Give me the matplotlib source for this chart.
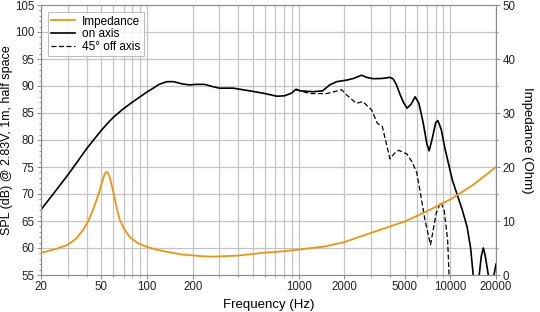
import matplotlib.pyplot as plt
from matplotlib.ticker import FixedLocator, NullFormatter, MultipleLocator

plt.rcParams['font.family'] = ['Liberation Sans', 'DejaVu Sans']

# on axis SPL (Hz, dB)
on_f = [20, 25, 30, 35, 40, 45, 50, 55, 60, 70, 80, 90, 100, 110, 120, 135, 150, 170, 190, 210,
        240, 270, 300, 370, 500, 600, 720, 810, 900, 960, 1025, 1240, 1440, 1600, 1780, 2080,
        2300, 2600, 2800, 3100, 3560, 4000, 4200, 4400, 4650, 4920, 5180, 5500, 5860, 6200,
        6600, 7000, 7250, 7600, 8000, 8270, 8700, 9200, 9600, 10300, 11000, 12000, 12900,
        13600, 14150, 14800, 15500, 16000, 16500, 17000, 17800, 18500, 19400, 20000]
on_db = [67.1, 70.6, 73.5, 76.1, 78.4, 80.2, 81.8, 83.1, 84.2, 85.8, 87.0, 88.0, 88.9, 89.6,
         90.3, 90.8, 90.8, 90.4, 90.2, 90.3, 90.3, 89.9, 89.6, 89.6, 89.0, 88.6, 88.1, 88.2,
         88.7, 89.4, 89.1, 88.95, 89.1, 90.2, 90.8, 91.1, 91.4, 92.0, 91.6, 91.35, 91.4, 91.6,
         91.3, 90.3, 88.5, 86.9, 85.9, 86.6, 88.0, 86.8, 83.4, 79.3, 78.0, 80.3, 83.2, 83.6,
         82.0, 78.5, 76.3, 72.6, 70.2, 67.0, 63.9, 60.0, 55.0, 50.0, 55.0, 58.5, 60.0, 58.5,
         55.0, 52.0, 55.0, 57.0]

# 45 deg off axis SPL (Hz, dB)
off_f = [960, 1190, 1530, 1920, 2080, 2400, 2650, 3020, 3300, 3560, 4000, 4300, 4560, 5180,
         5600, 6000, 6300, 6800, 7400, 8080, 8660, 9100, 9600, 9800, 10200]
off_db = [89.3, 88.6, 88.6, 89.3, 88.3, 86.8, 87.1, 85.6, 83.1, 82.5, 76.5, 77.6, 78.1, 77.4,
          75.9, 74.0, 70.7, 65.2, 60.6, 66.5, 68.5, 67.0, 61.5, 55.0, 48.0]

# impedance (Hz, Ohm)
imp_f = [20, 25, 30, 34, 38, 41, 44, 47, 49, 51, 52.5, 53.4, 54.2, 55.2, 56.3, 57.5, 59, 60.5,
         62, 64, 66, 70, 77, 87, 100, 115, 135, 170, 224, 272, 400, 578, 800, 1000, 1500,
         2000, 3000, 4000, 5000, 7000, 10000, 14000, 20000]
imp_ohm = [4.1, 4.8, 5.6, 6.7, 8.4, 10.0, 12.0, 14.3, 15.9, 17.6, 18.6, 19.0, 19.1, 18.9,
           18.4, 17.5, 16.2, 14.9, 13.4, 11.7, 10.3, 8.7, 7.0, 5.9, 5.2, 4.7, 4.3, 3.8, 3.5,
           3.4, 3.6, 4.1, 4.4, 4.7, 5.3, 6.1, 7.8, 9.0, 9.9, 11.8, 14.0, 16.6, 20.0]

x_ticks = [20, 50, 100, 200, 1000, 2000, 5000, 10000, 20000]
x_minor = [30, 40, 60, 70, 80, 90, 300, 400, 500, 600, 700, 800, 900,
           3000, 4000, 6000, 7000, 8000, 9000]

orange = '#f0940a'
grey = '#8c8c8c'

fig = plt.figure(figsize=(5.4, 3.12), dpi=100)
ax1 = fig.add_axes([41 / 540, 37 / 312, 455 / 540, 270 / 312])
ax2 = ax1.twinx()

ax1.set_xscale('log')
ax1.set_xlim(20, 20000)
ax1.set_ylim(55, 105)
ax2.set_ylim(0, 50)

# grid (left axis)
for f in x_ticks + x_minor:
    ax1.axvline(f, color='#c4c4c4', lw=0.9, zorder=0)
for v in range(60, 105, 5):
    ax1.axhline(v, color='#c4c4c4', lw=0.9, zorder=0)

ax1.plot(on_f, on_db, color='black', lw=1.2, label='on axis', zorder=3)
ax1.plot(off_f, off_db, color='black', lw=0.9, ls=(0, (4, 2)), label='45° off axis', zorder=3)
ax2.plot(imp_f, imp_ohm, color=orange, lw=1.3, label='Impedance', zorder=3)

ax1.xaxis.set_major_locator(FixedLocator(x_ticks))
ax1.xaxis.set_major_formatter(plt.FixedFormatter([str(t) for t in x_ticks]))
ax1.xaxis.set_minor_locator(FixedLocator(x_minor))
ax1.xaxis.set_minor_formatter(NullFormatter())
ax1.yaxis.set_major_locator(MultipleLocator(5))
ax1.yaxis.set_minor_locator(MultipleLocator(1))
ax2.yaxis.set_major_locator(MultipleLocator(10))
ax2.yaxis.set_minor_locator(MultipleLocator(5))

for ax in (ax1, ax2):
    for s in ax.spines.values():
        s.set_color(grey)
        s.set_linewidth(0.8)
    ax.tick_params(which='major', length=3, width=0.7, color=grey, labelsize=8.3,
                   labelcolor='#222222', pad=1.5)
    ax.tick_params(which='minor', length=1.6, width=0.6, color=grey)

ax1.set_xlabel('Frequency (Hz)', fontsize=9.5, labelpad=4)
ax1.set_ylabel('SPL (dB) @ 2.83V, 1m, half space', fontsize=9, labelpad=2)
ax2.set_ylabel('Impedance (Ohm)', fontsize=9.5, rotation=270, labelpad=13)

h1, l1 = ax1.get_legend_handles_labels()
h2, l2 = ax2.get_legend_handles_labels()
leg = ax2.legend(h2 + h1, l2 + l1, loc='upper left', bbox_to_anchor=(0.015, 0.974),
                 fontsize=8.5, frameon=True, fancybox=False, borderpad=0.3,
                 labelspacing=0.05, handlelength=2.0, handletextpad=0.6,
                 borderaxespad=0)
leg.get_frame().set_edgecolor('#aaaaaa')
leg.get_frame().set_linewidth(0.7)

fig.savefig('out.png', dpi=100)
